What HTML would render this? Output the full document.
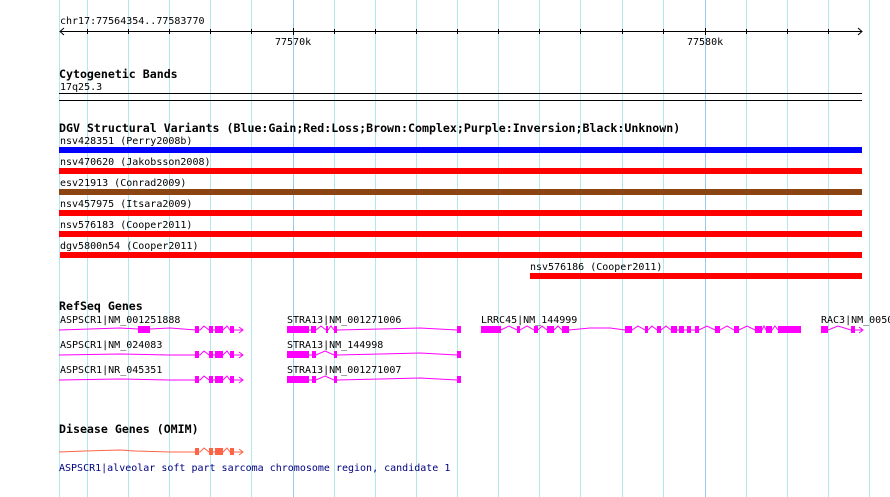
<!DOCTYPE html>
<html><head><meta charset="utf-8"><style>
html,body{margin:0;padding:0;background:#fff;}
svg{display:block;}
text{font-family:"DejaVu Sans Mono","Liberation Mono",monospace;font-size:10px;fill:#000;}
.h{font-weight:bold;font-size:11.6px;}
</style></head><body>
<svg width="890" height="497" viewBox="0 0 890 497" xmlns="http://www.w3.org/2000/svg">
<g stroke="#b0e8ee" stroke-width="1">
<line x1="59.5" y1="0" x2="59.5" y2="497"/>
<line x1="87.5" y1="0" x2="87.5" y2="497"/>
<line x1="128.5" y1="0" x2="128.5" y2="497"/>
<line x1="169.5" y1="0" x2="169.5" y2="497"/>
<line x1="210.5" y1="0" x2="210.5" y2="497"/>
<line x1="251.5" y1="0" x2="251.5" y2="497"/>
<line x1="334.5" y1="0" x2="334.5" y2="497"/>
<line x1="375.5" y1="0" x2="375.5" y2="497"/>
<line x1="416.5" y1="0" x2="416.5" y2="497"/>
<line x1="457.5" y1="0" x2="457.5" y2="497"/>
<line x1="498.5" y1="0" x2="498.5" y2="497"/>
<line x1="539.5" y1="0" x2="539.5" y2="497"/>
<line x1="580.5" y1="0" x2="580.5" y2="497"/>
<line x1="622.5" y1="0" x2="622.5" y2="497"/>
<line x1="663.5" y1="0" x2="663.5" y2="497"/>
<line x1="746.5" y1="0" x2="746.5" y2="497"/>
<line x1="787.5" y1="0" x2="787.5" y2="497"/>
<line x1="828.5" y1="0" x2="828.5" y2="497"/>
<line x1="869.5" y1="0" x2="869.5" y2="497"/>
</g>
<g stroke="#9cc8e8"><line x1="293.5" y1="0" x2="293.5" y2="497"/><line x1="705.5" y1="0" x2="705.5" y2="497"/></g>

<text x="60" y="24">chr17:77564354..77583770</text>
<g stroke="#000" fill="none">
<line x1="60" y1="31.5" x2="862" y2="31.5"/>
<polyline points="64,28 60,31.5 64,35"/>
<polyline points="858,28 862,31.5 858,35"/>
<line x1="87.5" y1="29" x2="87.5" y2="34"/><line x1="128.5" y1="29" x2="128.5" y2="34"/>
<line x1="169.5" y1="29" x2="169.5" y2="34"/><line x1="210.5" y1="29" x2="210.5" y2="34"/>
<line x1="251.5" y1="29" x2="251.5" y2="34"/><line x1="293.5" y1="28" x2="293.5" y2="35"/>
<line x1="334.5" y1="29" x2="334.5" y2="34"/><line x1="375.5" y1="29" x2="375.5" y2="34"/>
<line x1="416.5" y1="29" x2="416.5" y2="34"/><line x1="457.5" y1="29" x2="457.5" y2="34"/>
<line x1="498.5" y1="29" x2="498.5" y2="34"/><line x1="539.5" y1="29" x2="539.5" y2="34"/>
<line x1="580.5" y1="29" x2="580.5" y2="34"/><line x1="622.5" y1="29" x2="622.5" y2="34"/>
<line x1="663.5" y1="29" x2="663.5" y2="34"/><line x1="705.5" y1="28" x2="705.5" y2="35"/>
<line x1="746.5" y1="29" x2="746.5" y2="34"/><line x1="787.5" y1="29" x2="787.5" y2="34"/>
<line x1="828.5" y1="29" x2="828.5" y2="34"/>
<line x1="59" y1="93.5" x2="862" y2="93.5"/>
<line x1="59" y1="100.5" x2="862" y2="100.5"/>
</g>
<text x="275" y="45">77570k</text>
<text x="687" y="45">77580k</text>

<text class="h" x="59" y="78">Cytogenetic Bands</text>
<text x="60" y="90">17q25.3</text>

<text class="h" x="59" y="132">DGV Structural Variants (Blue:Gain;Red:Loss;Brown:Complex;Purple:Inversion;Black:Unknown)</text>
<text x="60" y="144">nsv428351 (Perry2008b)</text>
<rect x="59" y="147" width="803" height="6" fill="#0000ff"/>
<text x="60" y="165">nsv470620 (Jakobsson2008)</text>
<rect x="59" y="168" width="803" height="6" fill="#ff0000"/>
<text x="60" y="186">esv21913 (Conrad2009)</text>
<rect x="59" y="189" width="803" height="6" fill="#8b4513"/>
<text x="60" y="207">nsv457975 (Itsara2009)</text>
<rect x="59" y="210" width="803" height="6" fill="#ff0000"/>
<text x="60" y="228">nsv576183 (Cooper2011)</text>
<rect x="59" y="231" width="803" height="6" fill="#ff0000"/>
<text x="60" y="249">dgv5800n54 (Cooper2011)</text>
<rect x="60" y="252" width="802" height="6" fill="#ff0000"/>
<text x="530" y="270">nsv576186 (Cooper2011)</text>
<rect x="530" y="273" width="332" height="6" fill="#ff0000"/>

<text class="h" x="59" y="310">RefSeq Genes</text>

<g fill="#ff00ff" stroke="#ff00ff">
<text x="60" y="323" stroke="none" fill="#000">ASPSCR1|NM_001251888</text>
<polyline fill="none" points="59,330 90,329 120,328 138,329"/>
<polyline fill="none" points="150,329 170,328 196,330 200,330 204,326 209,330 212,330 216,330 223,330 227,326 230,330 234,330 243,330"/>
<polyline fill="none" points="239,327 243,330 239,333"/>
<rect x="138" y="326" width="12" height="7" stroke="none"/>
<rect x="195" y="326" width="4" height="7" stroke="none"/><rect x="209" y="326" width="4" height="7" stroke="none"/>
<rect x="215" y="326" width="8" height="7" stroke="none"/><rect x="230" y="326" width="4" height="7" stroke="none"/>

<text x="60" y="348" stroke="none" fill="#000">ASPSCR1|NM_024083</text>
<polyline fill="none" points="59,355 120,354 170,355 196,355 200,355 204,351 209,355 223,355 227,351 230,355 243,355"/>
<polyline fill="none" points="239,352 243,355 239,358"/>
<rect x="195" y="351" width="4" height="7" stroke="none"/><rect x="209" y="351" width="4" height="7" stroke="none"/>
<rect x="215" y="351" width="8" height="7" stroke="none"/><rect x="230" y="351" width="4" height="7" stroke="none"/>

<text x="60" y="373" stroke="none" fill="#000">ASPSCR1|NR_045351</text>
<polyline fill="none" points="59,380 120,379 170,380 196,380 200,380 204,376 209,380 223,380 227,376 230,380 243,380"/>
<polyline fill="none" points="239,377 243,380 239,383"/>
<rect x="195" y="376" width="4" height="7" stroke="none"/><rect x="209" y="376" width="4" height="7" stroke="none"/>
<rect x="215" y="376" width="8" height="7" stroke="none"/><rect x="230" y="376" width="4" height="7" stroke="none"/>

<text x="287" y="323" stroke="none" fill="#000">STRA13|NM_001271006</text>
<polyline fill="none" points="309,330 311,330 316,330 321,326 326,330 328,330 331,326 334,330 337,330 380,329 420,328 457,330"/>
<rect x="287" y="326" width="22" height="7" stroke="none"/><rect x="311" y="326" width="5" height="7" stroke="none"/>
<rect x="326" y="326" width="2" height="7" stroke="none"/><rect x="334" y="326" width="3" height="7" stroke="none"/>
<rect x="457" y="326" width="4" height="7" stroke="none"/>

<text x="287" y="348" stroke="none" fill="#000">STRA13|NM_144998</text>
<polyline fill="none" points="309,355 316,355 325,351 334,355 337,355 380,354 420,353 457,355"/>
<rect x="287" y="351" width="22" height="7" stroke="none"/><rect x="312" y="351" width="4" height="7" stroke="none"/>
<rect x="334" y="351" width="3" height="7" stroke="none"/><rect x="457" y="351" width="4" height="7" stroke="none"/>

<text x="287" y="373" stroke="none" fill="#000">STRA13|NM_001271007</text>
<polyline fill="none" points="309,380 316,380 325,376 334,380 337,380 380,379 420,378 457,380"/>
<rect x="287" y="376" width="22" height="7" stroke="none"/><rect x="312" y="376" width="4" height="7" stroke="none"/>
<rect x="334" y="376" width="3" height="7" stroke="none"/><rect x="457" y="376" width="4" height="7" stroke="none"/>

<text x="481" y="323" stroke="none" fill="#000">LRRC45|NM_144999</text>
<polyline fill="none" points="501,330 509,326 517,330 520,330 527,326 534,330 538,330 542,326 547,330 554,330 558,326 562,330 569,330 590,328 610,328 625,330 632,330 638,326 645,330 648,330 652,326 657,330 661,330 666,326 671,330 699,330 707,326 715,330 720,330 727,326 734,330 739,330 747,326 755,330 762,330 764,326 766,330 772,330 775,326 778,330"/>
<rect x="481" y="326" width="20" height="7" stroke="none"/><rect x="517" y="326" width="3" height="7" stroke="none"/>
<rect x="534" y="326" width="4" height="7" stroke="none"/><rect x="547" y="326" width="7" height="7" stroke="none"/>
<rect x="562" y="326" width="7" height="7" stroke="none"/><rect x="625" y="326" width="7" height="7" stroke="none"/>
<rect x="645" y="326" width="3" height="7" stroke="none"/><rect x="657" y="326" width="4" height="7" stroke="none"/>
<rect x="671" y="326" width="6" height="7" stroke="none"/><rect x="679" y="326" width="5" height="7" stroke="none"/>
<rect x="687" y="326" width="4" height="7" stroke="none"/><rect x="695" y="326" width="4" height="7" stroke="none"/>
<rect x="715" y="326" width="5" height="7" stroke="none"/><rect x="734" y="326" width="5" height="7" stroke="none"/>
<rect x="755" y="326" width="7" height="7" stroke="none"/><rect x="766" y="326" width="6" height="7" stroke="none"/>
<rect x="778" y="326" width="23" height="7" stroke="none"/>

<text x="821" y="323" stroke="none" fill="#000">RAC3|NM_005052</text>
<polyline fill="none" points="828,330 838,326 851,330 863,330"/>
<polyline fill="none" points="859,327 863,330 859,333"/>
<rect x="821" y="326" width="7" height="7" stroke="none"/><rect x="851" y="326" width="4" height="7" stroke="none"/>
</g>

<text class="h" x="59" y="433">Disease Genes (OMIM)</text>
<g fill="#ff6347" stroke="#ff6347">
<polyline fill="none" points="59,452 85,451 120,450 135,451 170,452 196,452 200,452 204,448 209,452 223,452 227,448 230,452 243,452"/>
<polyline fill="none" points="239,449 243,452 239,455"/>
<rect x="195" y="448" width="4" height="7" stroke="none"/><rect x="209" y="448" width="4" height="7" stroke="none"/>
<rect x="215" y="448" width="8" height="7" stroke="none"/><rect x="230" y="448" width="4" height="7" stroke="none"/>
</g>
<text x="59" y="471" style="fill:#000080">ASPSCR1|alveolar soft part sarcoma chromosome region, candidate 1</text>
</svg>
</body></html>
